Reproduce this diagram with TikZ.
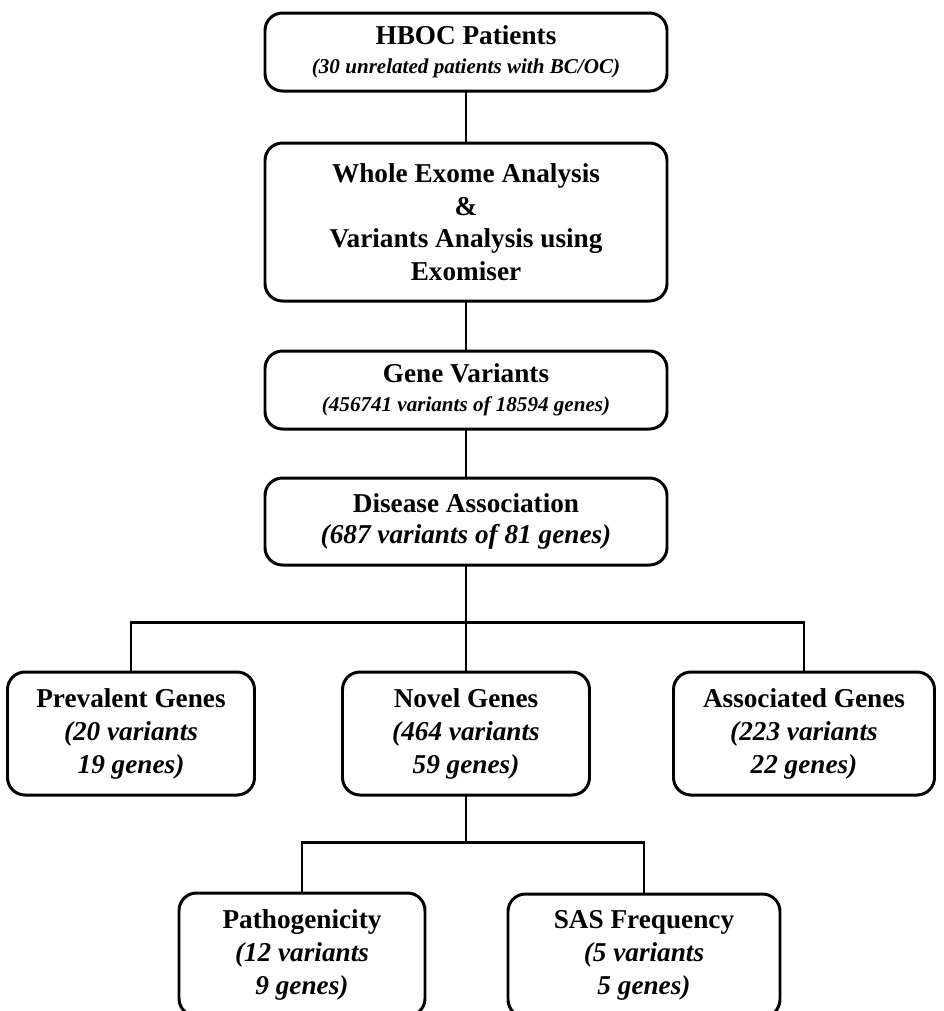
\documentclass[tikz,border=0pt]{standalone}
\usepackage{fontspec}
\setmainfont{Liberation Serif}
\usetikzlibrary{positioning}
\newcommand{\sub}{\fontsize{12}{16}\selectfont\itshape}

\begin{document}
\begin{tikzpicture}[node distance=1cm and 1.7cm,
 stepbox/.style={draw=black,line width=1.7pt,rounded corners=3.5mm,fill=white,
                 minimum width=8.04cm,align=center,inner sep=2pt,outer sep=0pt,
                 font=\fontsize{15.5}{18.5}\selectfont\bfseries},
 titlebox/.style={stepbox,minimum height=1.56cm,
                  font=\fontsize{15.5}{16.5}\selectfont\bfseries},
 leaf/.style={stepbox,minimum width=4.94cm,minimum height=2.46cm,
              font=\fontsize{15.5}{18.8}\selectfont\bfseries},
 link/.style={line width=1.7pt}]
\clip (0,0) rectangle (18.88,-20.22);
\useasboundingbox (0,0) rectangle (18.88,-20.22);
\node[titlebox] (hboc) at (9.32,-1.04)
  {HBOC Patients\\{\sub (30 unrelated patients with BC/OC)}};
\node[stepbox,minimum height=3.16cm,below=1.04cm of hboc] (exome)
  {Whole Exome Analysis\\\&\\Variants Analysis using\\Exomiser};
\node[titlebox,below=1cm of exome] (variants)
  {Gene Variants\\{\sub (456741 variants of 18594 genes)}};
\node[stepbox,minimum height=1.74cm,below=0.98cm of variants,
      font=\fontsize{15.5}{17.5}\selectfont\bfseries] (disease)
  {Disease Association\\{\itshape (687 variants of 81 genes)}};
% second level
\node[leaf,below=2.14cm of disease] (novel)
  {Novel Genes\\{\itshape (464 variants}\\{\itshape 59 genes)}};
\node[leaf,left=1.76cm of novel] (prevalent)
  {Prevalent Genes\\{\itshape (20 variants}\\{\itshape 19 genes)}};
\node[leaf,minimum width=5.22cm,right=1.68cm of novel] (associated)
  {Associated Genes\\{\itshape (223 variants}\\{\itshape 22 genes)}};
% third level
\node[leaf,minimum width=4.92cm,below=1.96cm of novel,xshift=-3.28cm] (patho)
  {Pathogenicity\\{\itshape (12 variants}\\{\itshape 9 genes)}};
\node[leaf,minimum width=5.44cm,below=1.98cm of novel,xshift=3.56cm] (sas)
  {SAS Frequency\\{\itshape (5 variants}\\{\itshape 5 genes)}};
\coordinate (split1) at (9.38,-12.44);
\coordinate (split2) at (9.46,-16.84);
\draw[link] (hboc) -- (exome);
\draw[link] (exome) -- (variants);
\draw[link] (variants) -- (disease);
\draw[link] (disease.south) -- (disease.south |- split1);
\draw[link] (prevalent.north) |- (split1) -| (associated.north);
\draw[link] (novel.north) -- (novel.north |- split1);
\draw[link] (novel.south) -- (novel.south |- split2);
\draw[link] (patho.north) |- (split2) -| (sas.north);
\end{tikzpicture}
\end{document}
